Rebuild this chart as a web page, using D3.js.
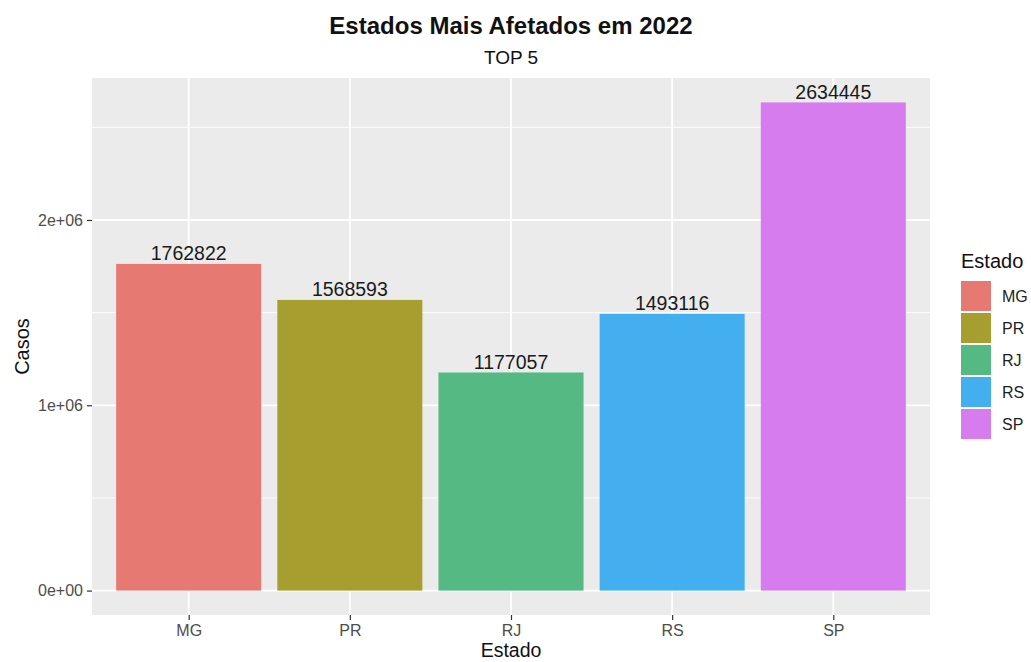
<!DOCTYPE html>
<html>
<head>
<meta charset="utf-8">
<script src="https://cdn.jsdelivr.net/npm/d3@7"></script>
<style>
  html, body { margin: 0; padding: 0; background: #fff; }
  svg { display: block; font-family: "Liberation Sans", Arial, Helvetica, sans-serif; }
</style>
</head>
<body>
<svg id="chart" width="1031" height="662"></svg>
<script>
// ---- data ----
const estados = ["MG", "PR", "RJ", "RS", "SP"];
const casos = [1762822, 1568593, 1177057, 1493116, 2634445];
const cores = ["#E67A72", "#A69F30", "#54B983", "#43AFEE", "#D77CEF"];
const yTicks = [0, 1000000, 2000000];
const yTickLabels = ["0e+00", "1e+06", "2e+06"];
const yMinor = [500000, 1500000, 2500000];

const W = 1031, H = 662;
const panel = { left: 92, right: 930, top: 78, bottom: 615 };
const svg = d3.select("#chart");

const maxV = d3.max(casos);
const y = d3.scaleLinear()
  .domain([-0.05 * maxV, maxV * 1.05])
  .range([panel.bottom, panel.top]);

const step = (panel.right - panel.left) / (estados.length + 0.2);
const x = d3.scalePoint()
  .domain(estados)
  .range([panel.left + 0.6 * step, panel.right - 0.6 * step]);
const barW = step * 0.9;
const color = d3.scaleOrdinal().domain(estados).range(cores);

// panel background
svg.append("rect")
  .attr("x", panel.left).attr("y", panel.top)
  .attr("width", panel.right - panel.left)
  .attr("height", panel.bottom - panel.top)
  .attr("fill", "#EBEBEB");

// minor gridlines
svg.append("g").selectAll("line").data(yMinor).join("line")
  .attr("x1", panel.left).attr("x2", panel.right)
  .attr("y1", d => y(d)).attr("y2", d => y(d))
  .attr("stroke", "#fff").attr("stroke-width", 0.9);

// major gridlines
svg.append("g").selectAll("line").data(yTicks).join("line")
  .attr("x1", panel.left).attr("x2", panel.right)
  .attr("y1", d => y(d)).attr("y2", d => y(d))
  .attr("stroke", "#fff").attr("stroke-width", 1.8);
svg.append("g").selectAll("line").data(estados).join("line")
  .attr("y1", panel.top).attr("y2", panel.bottom)
  .attr("x1", d => x(d)).attr("x2", d => x(d))
  .attr("stroke", "#fff").attr("stroke-width", 1.8);

// bars
const data = estados.map((e, i) => ({ estado: e, casos: casos[i] }));
svg.append("g").selectAll("rect").data(data).join("rect")
  .attr("x", d => x(d.estado) - barW / 2)
  .attr("width", barW)
  .attr("y", d => y(d.casos))
  .attr("height", d => y(0) - y(d.casos))
  .attr("fill", d => color(d.estado));

// bar labels
svg.append("g").selectAll("text").data(data).join("text")
  .attr("x", d => x(d.estado))
  .attr("y", d => y(d.casos) - 3.5)
  .attr("text-anchor", "middle")
  .attr("font-size", 19.5)
  .attr("fill", "#1a1a1a")
  .text(d => d.casos);

// y axis
const yAxis = d3.axisLeft(y).tickValues(yTicks)
  .tickFormat((d, i) => yTickLabels[i]).tickSize(5).tickPadding(4);
const gy = svg.append("g").attr("transform", `translate(${panel.left},0)`).call(yAxis);
gy.select(".domain").remove();
gy.selectAll(".tick line").attr("stroke", "#333").attr("stroke-width", 1.2);
gy.selectAll(".tick text").attr("fill", "#4D4D4D").attr("font-size", 16)
  .attr("font-family", "Liberation Sans, Arial, sans-serif");

// x axis
const xAxis = d3.axisBottom(x).tickSize(5).tickPadding(5);
const gx = svg.append("g").attr("transform", `translate(0,${panel.bottom})`).call(xAxis);
gx.select(".domain").remove();
gx.selectAll(".tick line").attr("stroke", "#333").attr("stroke-width", 1.2);
gx.selectAll(".tick text").attr("fill", "#4D4D4D").attr("font-size", 16)
  .attr("font-family", "Liberation Sans, Arial, sans-serif");

// axis titles
const cx = (panel.left + panel.right) / 2;
svg.append("text").attr("x", cx).attr("y", 657)
  .attr("text-anchor", "middle").attr("font-size", 19.5).attr("fill", "#111")
  .text("Estado");
svg.append("text")
  .attr("transform", `translate(29,${(panel.top + panel.bottom) / 2}) rotate(-90)`)
  .attr("text-anchor", "middle").attr("font-size", 20).attr("fill", "#111")
  .text("Casos");

// title & subtitle
svg.append("text").attr("x", cx).attr("y", 34)
  .attr("text-anchor", "middle").attr("font-size", 24).attr("font-weight", "bold")
  .attr("fill", "#111").text("Estados Mais Afetados em 2022");
svg.append("text").attr("x", cx).attr("y", 64)
  .attr("text-anchor", "middle").attr("font-size", 19).attr("fill", "#111")
  .text("TOP 5");

// legend
const lg = svg.append("g").attr("transform", "translate(961,0)");
lg.append("text").attr("x", 0).attr("y", 268).attr("font-size", 20).attr("fill", "#111")
  .text("Estado");
const keySize = 30, keyStep = 32, keyTop = 281;
const items = lg.selectAll("g.item").data(estados).join("g")
  .attr("class", "item")
  .attr("transform", (d, i) => `translate(0,${keyTop + i * keyStep})`);
items.append("rect").attr("width", keySize).attr("height", keySize)
  .attr("fill", d => color(d));
items.append("text").attr("x", 41).attr("y", keySize / 2).attr("dy", "0.35em")
  .attr("font-size", 16).attr("fill", "#222").text(d => d);
</script>
</body>
</html>
